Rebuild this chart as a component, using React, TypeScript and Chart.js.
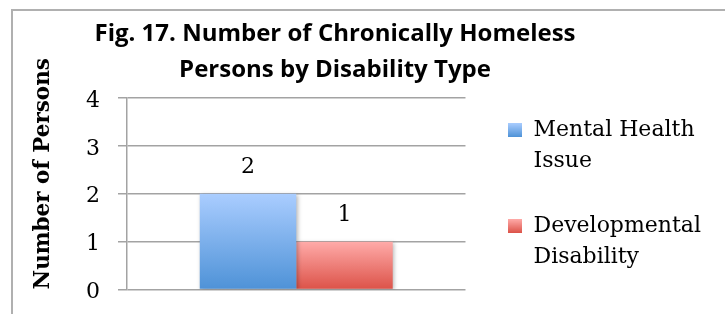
import React, { useEffect, useRef } from 'react';
import { Chart, registerables } from 'chart.js';

Chart.register(...registerables);

// ---- data ----
const categories = [''];
const seriesNames = [
  ['Mental Health', 'Issue'],
  ['Developmental', 'Disability'],
];
const mentalHealthValues = [2];
const developmentalValues = [1];
const yTickValues = [0, 1, 2, 3, 4];
const titleLines = ['Fig. 17. Number of Chronically Homeless', 'Persons by Disability Type'];
const yAxisTitle = 'Number of Persons';

// ---- styles ----
const seriesGradients = [
  ['#aacdff', '#4e92d7'],
  ['#ffaba9', '#dc5248'],
];
const GRID = '#a3a3a3';
const SERIF = '"DejaVu Serif", serif';

function makeLegendSwatch(colors: string[]) {
  const c = document.createElement('canvas');
  c.width = 14;
  c.height = 14;
  const g = c.getContext('2d')!;
  const grad = g.createLinearGradient(0, 0, 0, 14);
  grad.addColorStop(0, colors[0]);
  grad.addColorStop(1, colors[1]);
  g.fillStyle = grad;
  g.fillRect(0, 0, 14, 14);
  return c;
}

function barFill(seriesIndex: number) {
  return (ctx: any) => {
    const chart = ctx.chart;
    const cols = seriesGradients[seriesIndex];
    const y = chart.scales && chart.scales.y;
    if (!chart.chartArea || !y || ctx.type !== 'data') return cols[1];
    const top = y.getPixelForValue(ctx.raw);
    const bottom = y.getPixelForValue(0);
    if (!isFinite(top) || !isFinite(bottom) || bottom <= top) return cols[1];
    const grad = chart.ctx.createLinearGradient(0, top, 0, bottom);
    grad.addColorStop(0, cols[0]);
    grad.addColorStop(1, cols[1]);
    return grad;
  };
}

const barDecor = {
  id: 'barDecor',
  beforeDatasetsDraw(chart: any) {
    const ctx = chart.ctx;
    ctx.save();
    ctx.shadowColor = 'rgba(0,0,0,0.28)';
    ctx.shadowBlur = 4;
    ctx.shadowOffsetX = 1.5;
    ctx.shadowOffsetY = 1;
  },
  afterDatasetsDraw(chart: any) {
    const ctx = chart.ctx;
    ctx.restore();
    ctx.save();
    ctx.font = `22px ${SERIF}`;
    ctx.fillStyle = '#000';
    ctx.textAlign = 'center';
    ctx.textBaseline = 'alphabetic';
    chart.data.datasets.forEach((ds: any, i: number) => {
      chart.getDatasetMeta(i).data.forEach((el: any, j: number) => {
        ctx.fillText(String(ds.data[j]), el.x, el.y - 21);
      });
    });
    ctx.restore();
  },
};

export default function App() {
  const ref = useRef<HTMLCanvasElement>(null);

  useEffect(() => {
    if (!ref.current) return;
    const swatches = seriesGradients.map(makeLegendSwatch);
    const chart = new Chart(ref.current, {
      type: 'bar',
      data: {
        labels: categories,
        datasets: [
          { label: seriesNames[0].join(' '), data: mentalHealthValues, backgroundColor: barFill(0), borderWidth: 0 },
          { label: seriesNames[1].join(' '), data: developmentalValues, backgroundColor: barFill(1), borderWidth: 0 },
        ],
      },
      options: {
        responsive: false,
        animation: false,
        layout: { padding: { left: 0, right: 14, top: 0, bottom: 3 } },
        datasets: { bar: { barPercentage: 1, categoryPercentage: 0.57 } },
        scales: {
          x: {
            display: true,
            grid: { display: false },
            border: { display: false },
            ticks: { display: false },
            afterFit: (s: any) => {
              s.height = 107.5;
            },
          },
          y: {
            position: 'left',
            min: yTickValues[0],
            max: yTickValues[yTickValues.length - 1],
            afterBuildTicks: (s: any) => {
              s.ticks = yTickValues.map((v) => ({ value: v }));
            },
            ticks: { padding: 18, labelOffset: 3, color: '#000', font: { family: SERIF, size: 22 } },
            grid: { color: GRID, lineWidth: 1.5, tickLength: 9, drawTicks: true },
            border: { display: true, color: GRID, width: 1.5 },
            title: {
              display: true,
              text: yAxisTitle,
              align: 'start',
              color: '#000',
              font: { family: SERIF, size: 21.5, weight: 'bold' },
              padding: { top: 72, bottom: 0 },
            },
            afterFit: (s: any) => {
              s.width = 168;
            },
          },
          y2: {
            position: 'right',
            display: true,
            grid: { display: false },
            border: { display: false },
            ticks: { display: false },
            afterFit: (s: any) => {
              s.width = 10;
            },
          },
        },
        plugins: {
          title: {
            display: true,
            text: titleLines,
            color: '#000',
            font: { family: '"Open Sans"', size: 24, weight: 'bold', lineHeight: '36px' },
            padding: { top: 16, bottom: 10 },
          },
          legend: {
            position: 'right',
            fullSize: true,
            align: 'center',
            maxWidth: 400,
            labels: {
              color: '#000',
              font: { family: SERIF, size: 22, lineHeight: 1.43 },
              boxWidth: 14,
              boxHeight: 14,
              padding: 33,
              usePointStyle: true,
              generateLabels: () =>
                seriesNames.map((name, i) => ({
                  text: name,
                  pointStyle: swatches[i],
                  fillStyle: seriesGradients[i][1],
                  strokeStyle: 'rgba(0,0,0,0)',
                  lineWidth: 0,
                  hidden: false,
                  datasetIndex: i,
                  fontColor: '#000',
                })),
            },
          },
          tooltip: { enabled: false },
        },
      },
      plugins: [barDecor],
    } as any);
    return () => chart.destroy();
  }, []);

  return (
    <div style={{ position: 'fixed', left: 0, top: 0, width: 725, height: 314, overflow: 'hidden', background: '#fff' }}>
      <div
        style={{
          position: 'absolute',
          left: 11,
          top: 9,
          width: 800,
          height: 400,
          border: '2px solid #b0b0b0',
          boxSizing: 'border-box',
        }}
      />
      <div style={{ position: 'absolute', left: -41, top: 0, width: 766, height: 400 }}>
        <canvas ref={ref} width={766} height={400} style={{ display: 'block', width: 766, height: 400 }} />
      </div>
    </div>
  );
}
